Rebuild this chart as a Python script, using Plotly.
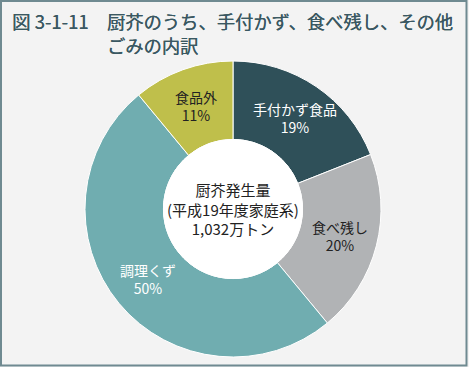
import math
import plotly.graph_objects as go

categories = ["手付かず食品", "食べ残し", "調理くず", "食品外"]
values = [19, 20, 50, 11]
colors = ["#2f5059", "#b1b3b5", "#70adb0", "#bfbf4b"]
text_colors = ["white", "#222222", "white", "#222222"]
center_lines = ["厨芥発生量", "(平成19年度家庭系)", "1,032万トン"]
title_code = "図 3-1-11"
title_lines = ["厨芥のうち、手付かず、食べ残し、その他", "ごみの内訳"]

W, H = 469, 367
cx, cy, r = 233, 209, 148
hole = 0.47
label_r = 110
FONT = "Noto Sans CJK JP"
TITLE_COLOR = "#3a5862"

fig = go.Figure(go.Pie(
    labels=categories,
    values=values,
    sort=False,
    direction="clockwise",
    rotation=0,
    hole=hole,
    marker=dict(colors=colors, line=dict(color="white", width=1)),
    textinfo="none",
    domain=dict(x=[(cx - r) / W, (cx + r) / W], y=[1 - (cy + r) / H, 1 - (cy - r) / H]),
    showlegend=False,
    hoverinfo="skip",
))

# white centre of the doughnut
hr = r * hole
fig.add_shape(type="circle", xref="paper", yref="paper", layer="above",
              x0=(cx - hr) / W, x1=(cx + hr) / W, y0=1 - (cy + hr) / H, y1=1 - (cy - hr) / H,
              fillcolor="white", line=dict(color="white", width=1))

# slice labels placed at the middle angle of each slice
total = sum(values)
cum = 0
for lab, v, tc in zip(categories, values, text_colors):
    a = math.radians((cum + v / 2) / total * 360)
    cum += v
    px = cx + label_r * math.sin(a)
    py = cy - label_r * math.cos(a)
    fig.add_annotation(
        x=px / W, y=1 - py / H, xref="paper", yref="paper",
        xanchor="center", yanchor="middle",
        text=f"{lab}<br>{v}%", showarrow=False, align="center",
        font=dict(family=FONT, size=14, color=tc),
    )

fig.add_annotation(
    x=cx / W, y=1 - cy / H, xref="paper", yref="paper",
    xanchor="center", yanchor="middle",
    text="<br>".join(center_lines), showarrow=False,
    font=dict(family=FONT, size=15, color="#222222"),
    align="center",
)

title_shadow = f"0.2px 0 0 {TITLE_COLOR}"
fig.add_annotation(
    x=10 / W, y=1 - 6 / H, xref="paper", yref="paper", xanchor="left", yanchor="top",
    text=title_code, showarrow=False, align="left",
    font=dict(family=FONT, size=18.5, color=TITLE_COLOR, shadow=title_shadow),
)
fig.add_annotation(
    x=105 / W, y=1 - 6 / H, xref="paper", yref="paper", xanchor="left", yanchor="top",
    text="<br>".join(title_lines), showarrow=False, align="left",
    font=dict(family=FONT, size=18.3, color=TITLE_COLOR, shadow=title_shadow),
)

fig.add_shape(type="rect", xref="paper", yref="paper",
              x0=1 / W, x1=466.5 / W, y0=1 - 365.5 / H, y1=1 - 1 / H,
              line=dict(color="#6f8a91", width=2), fillcolor="rgba(0,0,0,0)")

fig.update_layout(
    width=W, height=H,
    margin=dict(l=0, r=0, t=0, b=0),
    paper_bgcolor="#f3f3f3",
    plot_bgcolor="#f3f3f3",
)

fig.write_html("out.html", config={"displayModeBar": False},
               post_script="document.body.style.margin='0';document.body.style.padding='0';document.body.style.overflow='hidden';")
